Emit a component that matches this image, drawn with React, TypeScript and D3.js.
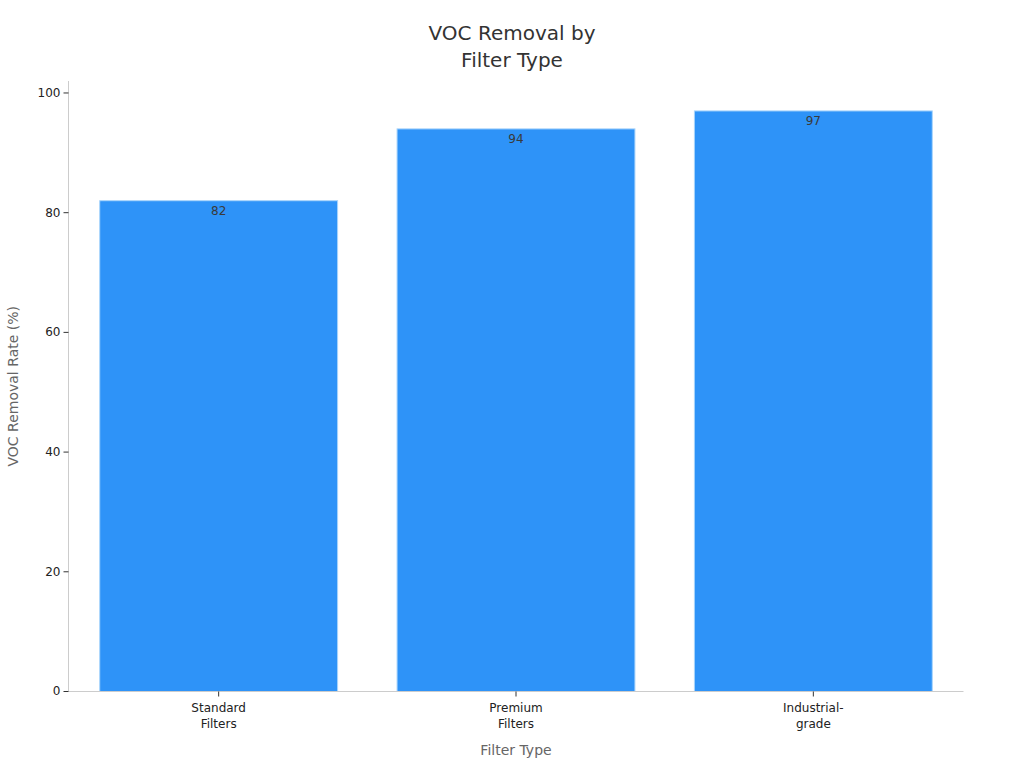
import React from "react";
import * as d3 from "d3";

const categories: string[][] = [["Standard", "Filters"], ["Premium", "Filters"], ["Industrial-", "grade"]];
const values: number[] = [82, 94, 97];
const yTicks: number[] = [0, 20, 40, 60, 80, 100];
const titleLines: string[] = ["VOC Removal by", "Filter Type"];

const W = 1024;
const H = 768;
const M = { left: 68.5, right: 60.5, top: 81, bottom: 76.5 };

export default function App() {
  const x = d3
    .scaleBand<number>()
    .domain(values.map((_, i) => i))
    .range([M.left, W - M.right])
    .paddingInner(0.2)
    .paddingOuter(0.105);
  const y = d3.scaleLinear().domain([0, 102]).range([H - M.bottom, M.top]);
  const font = "'DejaVu Sans', sans-serif";
  const baseY = y(0);
  return (
    <svg width={W} height={H} style={{ position: "absolute", left: 0, top: 0, background: "#fff" }} fontFamily={font}>
      {titleLines.map((t, i) => (
        <text key={i} x={512} y={40 + i * 27} textAnchor="middle" fontSize={20} fill="#333">
          {t}
        </text>
      ))}
      {values.map((v, i) => (
        <g key={i}>
          <rect
            x={x(i)!}
            y={y(v)}
            width={x.bandwidth()}
            height={baseY - y(v)}
            fill="#2e93f8"
            stroke="#a8d4fb"
            strokeWidth={1}
          />
          <text x={x(i)! + x.bandwidth() / 2} y={y(v) + 14} textAnchor="middle" fontSize={12} fill="#3a3a3a">
            {v}
          </text>
        </g>
      ))}
      <line x1={M.left} x2={M.left} y1={M.top} y2={baseY} stroke="#ccc" />
      <line x1={M.left} x2={W - M.right} y1={baseY} y2={baseY} stroke="#ccc" />
      {yTicks.map((t) => (
        <g key={t} transform={`translate(${M.left},${y(t)})`}>
          <line x1={-5} x2={0} stroke="#333" />
          <text x={-8} dy="0.32em" textAnchor="end" fontSize={12} fill="#222">
            {t}
          </text>
        </g>
      ))}
      {categories.map((c, i) => {
        const cx = x(i)! + x.bandwidth() / 2;
        return (
          <g key={i}>
            <line x1={cx} x2={cx} y1={baseY} y2={baseY + 5} stroke="#333" />
            {c.map((l, j) => (
              <text key={j} x={cx} y={baseY + 20 + j * 16} textAnchor="middle" fontSize={12} fill="#222">
                {l}
              </text>
            ))}
          </g>
        );
      })}
      <text x={(M.left + W - M.right) / 2} y={755} textAnchor="middle" fontSize={14} fill="#666">
        Filter Type
      </text>
      <text
        transform={`translate(18,${(M.top + baseY) / 2}) rotate(-90)`}
        textAnchor="middle"
        fontSize={14}
        fill="#666"
      >
        VOC Removal Rate (%)
      </text>
    </svg>
  );
}
